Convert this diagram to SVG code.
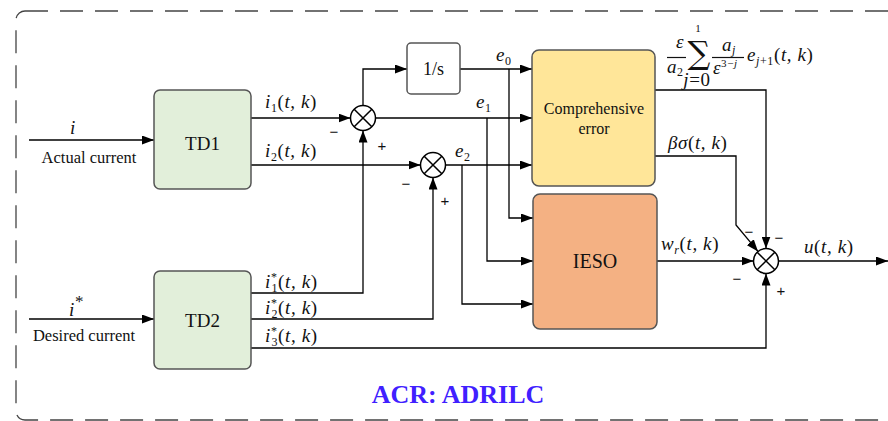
<svg xmlns="http://www.w3.org/2000/svg" width="888" height="421" viewBox="0 0 888 421">
<defs>
<marker id="arr" markerUnits="userSpaceOnUse" markerWidth="13" markerHeight="9" refX="12" refY="4.5" orient="auto">
<path d="M0,0 L12,4.5 L0,9 z" fill="#000"/>
</marker>
<style>
.frame{fill:none;stroke:#444;stroke-width:1.3;stroke-dasharray:23 12}
.box{stroke:#555;stroke-width:1.5}
.td{fill:#E2EFDA}
.ce{fill:#FFE699}
.ie{fill:#F4B183}
.wh{fill:#fff}
.lbl{font-family:'Liberation Serif','Times New Roman',serif;fill:#111;text-anchor:middle}
.m{font-family:'Liberation Serif','Times New Roman',serif;font-style:italic;font-size:19px;fill:#111;letter-spacing:0.6px}
.up{font-style:normal}
.sub{font-size:12px;font-style:normal}
.it{font-style:italic}
.sg{font-family:'Liberation Sans',Arial,sans-serif;font-size:15px;fill:#111;text-anchor:middle}
.c{fill:none;stroke:#000;stroke-width:1.5}
.wa{fill:none;stroke:#000;stroke-width:1.3;marker-end:url(#arr)}
.title{font-family:'Liberation Serif','Times New Roman',serif;font-weight:bold;font-size:26px;fill:#4020FF;text-anchor:middle}
</style>
</defs>
<rect x="0" y="0" width="888" height="421" fill="#fff"/>
<rect class="frame" x="16" y="11" width="900" height="409" rx="9"/>

<g id="connectors">
<path class="wa" d="M29,140 H154"/>
<path class="wa" d="M29,319 H154"/>
<path class="wa" d="M251,118 H350.5"/>
<path class="wa" d="M251,165 H420.5"/>
<path class="wa" d="M363,105.5 V69 H407"/>
<path class="wa" d="M460,69 H532"/>
<path class="wa" d="M375.5,118 H532"/>
<path class="wa" d="M445.5,165 H532"/>
<path class="wa" d="M509,69 V218 H533"/>
<path class="wa" d="M487,118 V261 H533"/>
<path class="wa" d="M462,165 V304 H533"/>
<path class="wa" d="M251,293 H363 V130.5"/>
<path class="wa" d="M251,319 H433 V177.5"/>
<path class="wa" d="M251,348 H766 V273.5"/>
<path class="wa" d="M655,90 H766 V248.5"/>
<path class="wa" d="M655,156 H736 V225 L758,251.4"/>
<path class="wa" d="M657,261 H753.5"/>
<path class="wa" d="M778.5,261 H888"/>
</g>

<g id="TD1">
<rect class="box td" x="154" y="90" width="97" height="99" rx="6"/>
<text class="lbl" x="202.5" y="150" font-size="19">TD1</text>
</g>
<g id="TD2">
<rect class="box td" x="154" y="271" width="97" height="98" rx="6"/>
<text class="lbl" x="202.5" y="327" font-size="19">TD2</text>
</g>
<g id="integrator">
<rect class="box wh" x="407" y="43" width="53" height="51" rx="4"/>
<text class="lbl" x="433.5" y="75" font-size="18">1/s</text>
</g>
<g id="comprehensive">
<rect class="box ce" x="532" y="50" width="123" height="136" rx="7"/>
<text class="lbl" x="594" y="114" font-size="16">Comprehensive</text>
<text class="lbl" x="594" y="134" font-size="16">error</text>
</g>
<g id="IESO">
<rect class="box ie" x="533" y="194" width="124" height="135" rx="7"/>
<text class="lbl" x="595" y="268" font-size="20">IESO</text>
</g>

<g id="sum1">
<circle class="c" cx="363" cy="118" r="12.5" fill="#fff"/>
<path class="c" d="M354.2,109.2 L371.8,126.8 M371.8,109.2 L354.2,126.8"/>
<text class="sg" x="334" y="137">−</text>
<text class="sg" x="382" y="151">+</text>
</g>
<g id="sum2">
<circle class="c" cx="433" cy="165" r="12.5" fill="#fff"/>
<path class="c" d="M424.2,156.2 L441.8,173.8 M441.8,156.2 L424.2,173.8"/>
<text class="sg" x="406" y="189">−</text>
<text class="sg" x="445" y="206">+</text>
</g>
<g id="sum3">
<circle class="c" cx="766" cy="261" r="12.5" fill="#fff"/>
<path class="c" d="M757.2,252.2 L774.8,269.8 M774.8,252.2 L757.2,269.8"/>
<text class="sg" x="749" y="237">−</text>
<text class="sg" x="779" y="243">−</text>
<text class="sg" x="737" y="284">−</text>
<text class="sg" x="781" y="296">+</text>
</g>

<g id="labels">
<text class="m" x="70" y="134" font-size="25">i</text>
<text class="lbl" x="89" y="163" font-size="16.5">Actual current</text>
<text class="m" x="69" y="316" font-size="25">i<tspan class="up" font-size="17" dy="-9">*</tspan></text>
<text class="lbl" x="84" y="341" font-size="16.5">Desired current</text>

<text class="m" x="265" y="108">i<tspan class="sub" dy="4">1</tspan><tspan class="up" dy="-4">(</tspan>t, k<tspan class="up">)</tspan></text>
<text class="m" x="265" y="157">i<tspan class="sub" dy="4">2</tspan><tspan class="up" dy="-4">(</tspan>t, k<tspan class="up">)</tspan></text>
<text class="m" x="265" y="288">i<tspan class="sub" dy="-7">*</tspan><tspan class="sub" dx="-6" dy="11">1</tspan><tspan class="up" dy="-4">(</tspan>t, k<tspan class="up">)</tspan></text>
<text class="m" x="265" y="314">i<tspan class="sub" dy="-7">*</tspan><tspan class="sub" dx="-6" dy="11">2</tspan><tspan class="up" dy="-4">(</tspan>t, k<tspan class="up">)</tspan></text>
<text class="m" x="265" y="342">i<tspan class="sub" dy="-7">*</tspan><tspan class="sub" dx="-6" dy="11">3</tspan><tspan class="up" dy="-4">(</tspan>t, k<tspan class="up">)</tspan></text>

<text class="m" x="496" y="61" font-size="23">e<tspan class="sub" font-size="15" dy="4">0</tspan></text>
<text class="m" x="476" y="108" font-size="23">e<tspan class="sub" font-size="15" dy="4">1</tspan></text>
<text class="m" x="455" y="157" font-size="23">e<tspan class="sub" font-size="15" dy="4">2</tspan></text>

<text class="m" x="676" y="48" font-size="17">ε</text>
<path d="M667,57.5 H686" stroke="#111" stroke-width="1.2"/>
<text class="m" x="667" y="73" font-size="18">a<tspan class="sub" font-size="11" dy="3">2</tspan></text>
<text x="699" y="64" font-family="'DejaVu Serif',serif" font-size="32" text-anchor="middle" fill="#111">∑</text>
<text x="698" y="32" font-family="'Liberation Serif',serif" font-size="11" text-anchor="middle" fill="#111">1</text>
<text class="m" x="697" y="86" font-size="11" text-anchor="middle" letter-spacing="0">j<tspan class="up">=0</tspan></text>
<text class="m" x="722" y="51" font-size="18">a<tspan class="sub it" font-size="11" dy="3">j</tspan></text>
<path d="M712,57.5 H744" stroke="#111" stroke-width="1.2"/>
<text class="m" x="713" y="74" font-size="17" letter-spacing="0">ε<tspan class="up" font-size="11" dy="-7">3−</tspan><tspan font-size="11">j</tspan></text>
<text class="m" x="747" y="61">e<tspan class="sub it" font-size="12" dy="4">j</tspan><tspan class="sub" font-size="12">+1</tspan><tspan class="up" dy="-4">(</tspan>t, k<tspan class="up">)</tspan></text>

<text class="m" x="668" y="149">βσ<tspan class="up">(</tspan>t, k<tspan class="up">)</tspan></text>
<text class="m" x="661" y="250">w<tspan class="sub it" dy="4">r</tspan><tspan class="up" dy="-4">(</tspan>t, k<tspan class="up">)</tspan></text>
<text class="m" x="804" y="253" font-size="24">u<tspan class="up">(</tspan>t, k<tspan class="up">)</tspan></text>
</g>

<text id="title" class="title" x="458" y="403">ACR: ADRILC</text>
</svg>
